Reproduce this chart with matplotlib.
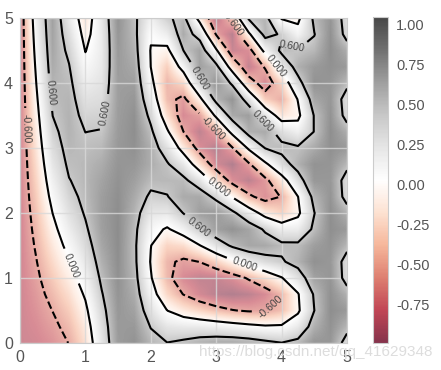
import numpy as np
import matplotlib
matplotlib.use("Agg")
import matplotlib.pyplot as plt

x_vals = [0.25 * i for i in range(21)]
y_vals = [0.25 * j for j in range(21)]

# values read on a 21x21 grid, bottom row first
z_vals = [
    [-.839, -.813, -.736, -.592, -.275, .329, .916, 1.000, .735, .608, .678, .775, .831, .834, .785, .693, .611, .704, .974, .961, .419],
    [-.839, -.778, -.670, -.507, -.188, .394, .934, .945, .584, .344, .296, .280, .241, .180, .112, .051, .059, .300, .770, 1.000, .729],
    [-.839, -.740, -.594, -.403, -.079, .479, .958, .872, .384, -.001, -.196, -.343, -.479, -.585, -.642, -.629, -.491, -.073, .597, 1.030, .940],
    [-.839, -.701, -.509, -.285, .047, .575, .984, .795, .185, -.320, -.612, -.809, -.941, -.986, -.934, -.792, -.531, -.033, .651, 1.013, .764],
    [-.839, -.657, -.416, -.156, .181, .672, 1.009, .729, .034, -.516, -.793, -.908, -.898, -.770, -.557, -.305, -.027, .380, .872, .971, .442],
    [-.839, -.611, -.317, -.020, .314, .762, 1.030, .686, -.029, -.528, -.672, -.593, -.372, -.074, .221, .434, .557, .742, 1.007, .956, .414],
    [-.839, -.563, -.212, .117, .439, .836, 1.042, .673, .009, -.352, -.295, -.011, .352, .671, .840, .823, .689, .680, .903, .987, .719],
    [-.839, -.513, -.104, .250, .548, .886, 1.046, .695, .138, -.043, .195, .578, .888, .994, .854, .541, .242, .259, .678, 1.025, .940],
    [-.839, -.460, .005, .376, .634, .907, 1.039, .745, .329, .305, .612, .906, .948, .694, .257, -.177, -.368, -.088, .589, 1.023, .774],
    [-.839, -.406, .115, .489, .691, .899, 1.024, .816, .534, .583, .805, .819, .498, -.034, -.529, -.749, -.584, -.007, .736, .983, .445],
    [-.839, -.351, .222, .586, .717, .860, 1.002, .893, .701, .707, .692, .362, -.218, -.751, -.932, -.706, -.207, .417, .954, .956, .411],
    [-.839, -.294, .327, .663, .709, .796, .976, .962, .794, .637, .320, -.260, -.816, -.990, -.657, -.087, .420, .755, .993, .975, .710],
    [-.839, -.235, .426, .717, .668, .711, .950, 1.011, .785, .397, -.170, -.761, -.978, -.620, .078, .616, .716, .653, .810, 1.017, .938],
    [-.839, -.175, .518, .748, .597, .616, .927, 1.029, .676, .060, -.600, -.920, -.618, .144, .764, .809, .410, .219, .613, 1.029, .781],
    [-.839, -.116, .603, .753, .499, .519, .912, 1.013, .500, -.274, -.792, -.649, .082, .811, .904, .351, -.216, -.101, .625, .996, .454],
    [-.839, -.055, .678, .732, .381, .428, .905, .967, .294, -.495, -.687, -.103, .738, .975, .396, -.390, -.586, .021, .833, .959, .405],
    [-.839, .005, .743, .686, .251, .355, .907, .900, .113, -.539, -.324, .506, .990, .529, -.398, -.810, -.360, .461, 1.000, .965, .701],
    [-.839, .065, .795, .617, .117, .302, .919, .823, -.004, -.393, .161, .881, .718, -.247, -.905, -.565, .254, .766, .935, 1.006, .937],
    [-.839, .126, .835, .527, -.014, .279, .939, .750, -.025, -.100, .603, .857, .060, -.869, -.763, .145, .691, .623, .714, 1.031, .790],
    [-.839, .185, .863, .419, -.133, .287, .964, .698, .054, .251, .803, .442, -.630, -.948, -.073, .739, .551, .180, .586, 1.008, .461],
    [-.839, .244, .877, .297, -.231, .323, .991, .674, .215, .549, .705, -.174, -.981, -.435, .669, .734, -.040, -.110, .698, .967, .401],
]

contour_levels = [-0.6, 0.0, 0.6]
cbar_ticks = [-0.75, -0.5, -0.25, 0.0, 0.25, 0.5, 0.75, 1.0]
axis_ticks = [0, 1, 2, 3, 4, 5]
watermark = "https://blog.csdn.net/qq_41629348"

# where the inline contour labels sit
label_spots = [
    (0.14, 3.3), (0.48, 3.86), (1.27, 3.55), (2.75, 4.07), (2.95, 3.3),
    (3.28, 4.95), (4.17, 4.58), (3.95, 4.28), (3.78, 3.46), (3.09, 2.46),
    (2.75, 1.8), (3.44, 1.23), (3.83, 0.55), (0.83, 1.2),
]

plt.rcParams["font.family"] = ["Liberation Sans", "DejaVu Sans"]
plt.rcParams["axes.unicode_minus"] = False
GREY = "#555555"


def main():
    X, Y = np.meshgrid(x_vals, y_vals)
    Z = np.array(z_vals)

    fig = plt.figure(figsize=(4.41, 3.70), dpi=100)
    ax = fig.add_axes([20 / 441, 27 / 370, 327 / 441, 325 / 370])
    cax = fig.add_axes([373 / 441, 27 / 370, 15 / 441, 326 / 370])

    im = ax.imshow(Z, extent=[-0.125, 5.125, -0.125, 5.125], origin="lower",
                   cmap="RdGy", alpha=0.5, interpolation="bilinear", aspect="auto")
    cs = ax.contour(X, Y, Z, levels=contour_levels, colors="black", linewidths=1.5)
    ax.clabel(cs, inline=True, fontsize=7.5, manual=label_spots, colors="#444444", fmt="%.3f")
    ax.set_xlim(0, 5)
    ax.set_ylim(0, 5)

    ax.set_xticks(axis_ticks)
    ax.set_yticks(axis_ticks)
    ax.grid(True, color="#d8d8d8", lw=1, alpha=0.8)
    ax.tick_params(length=0, labelsize=11.5, labelcolor=GREY, pad=5)
    for sp in ax.spines.values():
        sp.set_color("#cccccc")

    cb = fig.colorbar(im, cax=cax)
    cb.solids.set_alpha(0.8)  # bar reads darker than the image
    cb.set_ticks(cbar_ticks)
    cb.set_ticklabels([f"{t:.2f}" for t in cbar_ticks])
    cb.ax.tick_params(length=0, labelsize=10.5, labelcolor=GREY, pad=6)
    cb.outline.set_edgecolor("#cccccc")

    fig.text(432 / 441, 18 / 370, watermark, ha="right", va="center",
             fontsize=11, color="#dddddd")

    fig.savefig("out.png", dpi=100)
    plt.close(fig)


if __name__ == "__main__":
    main()
